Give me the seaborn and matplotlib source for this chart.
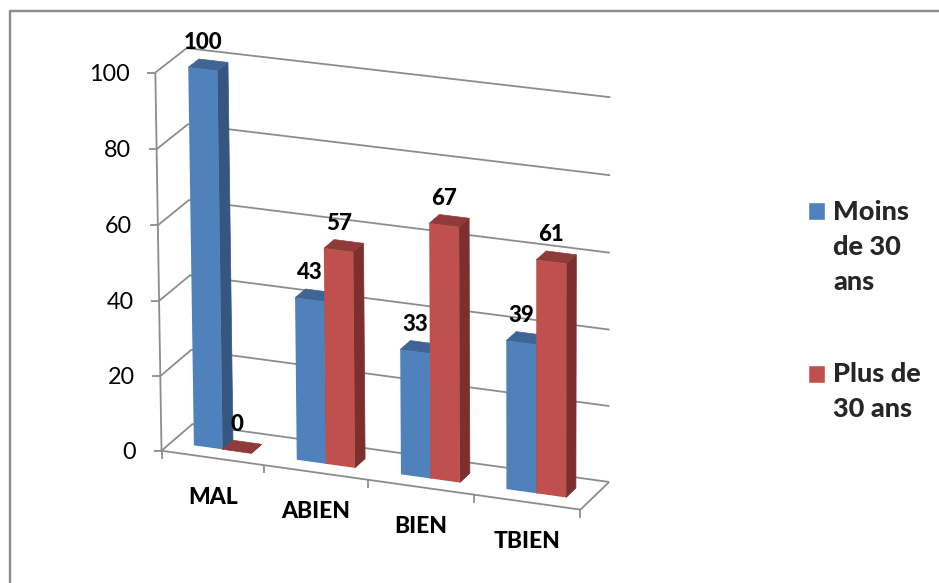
import numpy as np
import pandas as pd
import matplotlib
matplotlib.use("Agg")
import matplotlib.pyplot as plt
from matplotlib.lines import Line2D
from matplotlib.patches import Polygon
from matplotlib.transforms import IdentityTransform, Transform
import seaborn as sns

# Chart values
categories = ["MAL", "ABIEN", "BIEN", "TBIEN"]
under_30 = [100, 43, 33, 39]
over_30 = [0, 57, 67, 61]
series_names = ["Moins de 30 ans", "Plus de 30 ans"]
legend_labels = ["Moins\nde 30\nans", "Plus de\n30 ans"]
y_ticks = [0, 20, 40, 60, 80, 100]

# Face colours: front, top, side
blue_faces = ["#4F81BD", "#3E6594", "#345680"]
red_faces = ["#C0504D", "#8F3B39", "#7C2F2D"]
line_grey = "#8C8C8C"

W, H = 939, 583
BAR_SPAN = 0.56
Z_FRONT, Z_BACK = 0.32, 0.66

sns.set_theme(style="white")
plt.rcParams["font.family"] = ["Lato", "DejaVu Sans"]


def fit_camera():
    """Least-squares projective camera for the chart box (x, value, depth) -> pixel."""
    corners = [
        ((-0.5, 0, 0), (162.0, 451.0)),
        ((-0.5, 100, 0), (155.5, 71.5)),
        ((-0.5, 0, 1), (191.7, 424.0)),
        ((-0.5, 100, 1), (186.7, 49.0)),
        ((3.5, 0, 0), (582.0, 510.0)),
        ((3.5, 100, 0), (579.0, 123.0)),
        ((3.5, 0, 1), (607.7, 481.5)),
        ((3.5, 100, 1), (612.5, 97.0)),
    ]
    rows, rhs = [], []
    for (x, y, z), (u, v) in corners:
        rows.append([x, y, z, 1, 0, 0, 0, 0, -u * x, -u * y, -u * z])
        rows.append([0, 0, 0, 0, x, y, z, 1, -v * x, -v * y, -v * z])
        rhs += [u, v]
    p = np.linalg.lstsq(np.array(rows), np.array(rhs), rcond=None)[0]
    return np.append(p, 1.0).reshape(3, 4)


CAMERA = fit_camera()


def project(x, y, z):
    """Project box coordinates to display coordinates (origin bottom-left)."""
    u, v, w = CAMERA @ np.array([x, y, z, 1.0])
    return u / w, H - v / w


class DepthPlane(Transform):
    """Maps (category, value) on a plane of constant depth to display space."""

    input_dims = 2
    output_dims = 2
    is_separable = False
    has_inverse = False

    def __init__(self, plane_depth):
        super().__init__()
        self.plane_depth = plane_depth

    def transform_non_affine(self, values):
        values = np.asarray(values, dtype=float)
        homog = np.column_stack(
            [values, np.full(len(values), self.plane_depth), np.ones(len(values))]
        )
        out = homog @ CAMERA.T
        return np.column_stack([out[:, 0] / out[:, 2], H - out[:, 1] / out[:, 2]])


fig = plt.figure(figsize=(W / 100, H / 100), dpi=100, facecolor="white")
ax = fig.add_axes([0, 0, 1, 1])

df = pd.DataFrame(
    {
        "categorie": categories * 2,
        "valeur": under_30 + over_30,
        "groupe": [series_names[0]] * 4 + [series_names[1]] * 4,
    }
)
sns.barplot(
    data=df,
    x="categorie",
    y="valeur",
    hue="groupe",
    order=categories,
    hue_order=series_names,
    palette=[blue_faces[0], red_faces[0]],
    width=BAR_SPAN,
    gap=0,
    saturation=1,
    errorbar=None,
    ax=ax,
)
ax.set_xlim(-0.5, 3.5)
ax.set_ylim(0, 100)
ax.axis("off")
handles = ax.get_legend().legend_handles
ax.get_legend().remove()


def display_line(points, width=1.8, zorder=1):
    xs, ys = zip(*points)
    ax.add_line(
        Line2D(xs, ys, color=line_grey, lw=width * 0.72, zorder=zorder,
               transform=IdentityTransform(), solid_capstyle="butt", clip_on=False)
    )


# Chart frame
display_line([(10, 0), (10, H - 11), (W, H - 11)], width=2.4)

# Wall gridlines, axis and ticks
for tick in y_ticks:
    front = project(-0.5, tick, 0)
    display_line([project(-0.5, tick, 0), project(-0.5, tick, 1), project(3.5, tick, 1)])
    display_line([(front[0] - 8, front[1]), front])
    ax.text(front[0] - 25.5, front[1] - 1.5, str(tick), transform=IdentityTransform(),
            ha="right", va="center", fontsize=16.8, color="black", clip_on=False)
display_line([project(-0.5, 0, 0), project(-0.5, 100, 0)])

# Floor outline and category ticks
display_line([project(-0.5, 0, 0), project(3.5, 0, 0), project(3.5, 0, 1)])
for edge in np.arange(-0.5, 3.6, 1):
    px, py = project(edge, 0, 0)
    display_line([(px, py), (px, py - 8)])
for i, name in enumerate(categories):
    px, py = project(i, 0, 0)
    ax.text(px, py - 39.5, name, transform=IdentityTransform(), ha="center",
            va="center", fontsize=16.5, fontweight=900, color="black", clip_on=False)

# Extrude each seaborn bar into a box, left to right
plane = DepthPlane(Z_FRONT)
for j, face_set in enumerate([blue_faces, red_faces]):
    group = ax.containers[j]
    values = under_30 if j == 0 else over_30
    for i, bar in enumerate(group):
        x0 = bar.get_x()
        x1 = x0 + bar.get_width()
        top = bar.get_height()
        bar.set_transform(plane)
        bar.set_clip_on(False)
        bar.set_edgecolor("none")
        bar.set_zorder(3 + i * 2 + j * 0.5)
        top_face = [project(x0, top, Z_FRONT), project(x1, top, Z_FRONT),
                    project(x1, top, Z_BACK), project(x0, top, Z_BACK)]
        side_face = [project(x1, 0, Z_FRONT), project(x1, top, Z_FRONT),
                     project(x1, top, Z_BACK), project(x1, 0, Z_BACK)]
        for face, colour in ((side_face, face_set[2]), (top_face, face_set[1])):
            ax.add_patch(Polygon(face, closed=True, facecolor=colour, edgecolor=colour,
                                 lw=0.5, transform=IdentityTransform(), clip_on=False,
                                 zorder=3 + i * 2 + j * 0.5 - 0.1))
        cx, cy = project((x0 + x1) / 2, values[i], Z_BACK)
        ax.text(cx - 10, cy + 18, str(values[i]), transform=IdentityTransform(),
                ha="center", va="center", fontsize=16, fontweight=900,
                color="black", clip_on=False, zorder=20)

legend = ax.legend(
    handles=handles,
    labels=legend_labels,
    loc="upper left",
    bbox_to_anchor=(808 / W, 1 - 199.5 / H),
    bbox_transform=fig.transFigure,
    frameon=False,
    prop={"size": 19.5, "weight": 900},
    handlelength=0.63,
    handleheight=0.63,
    handletextpad=0.3,
    labelspacing=2.52,
    borderpad=0,
    borderaxespad=0,
)
for label in legend.get_texts():
    label.set_linespacing(1.56)
# Swatches sit beside the first line of each multi-line entry
for swatch, lift in zip(legend.legend_handles, (26.0, 13.0)):
    swatch.set_y(swatch.get_y() + lift)
legend.set_zorder(20)

fig.savefig("out.png", dpi=100, facecolor="white")
